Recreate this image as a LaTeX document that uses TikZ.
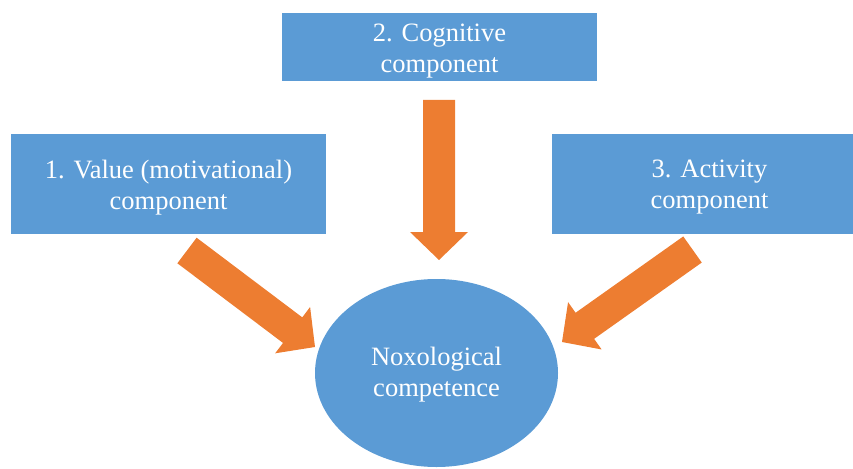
\documentclass[tikz,border=0pt]{standalone}
\usepackage{fontspec}
\setmainfont{Liberation Serif}
\usetikzlibrary{calc,shapes.geometric}
\definecolor{boxblue}{HTML}{5B9BD5}
\definecolor{arroworange}{HTML}{ED7D31}
\tikzset{
  comp/.style={fill=boxblue, draw=none, inner sep=0pt, minimum width=315pt},
  goal/.style={ellipse, fill=boxblue, draw=none, inner sep=0pt,
    minimum width=243pt, minimum height=188pt},
  lbl/.style={text=white, align=center, inner sep=0pt,
    font=\fontsize{26.5}{31}\selectfont},
  blockfill/.style={fill=arroworange, draw=none}
}
\newcommand\blockarrow[2]{%
  \coordinate (ba) at ($(#2)!28pt!(#1)$);
  \fill[blockfill] ($(#1)!16pt!90:(#2)$) -- ($(ba)!16pt!-90:(#1)$)
    -- ($(ba)!29pt!-90:(#1)$) -- (#2) -- ($(ba)!29pt!90:(#1)$)
    -- ($(ba)!16pt!90:(#1)$) -- ($(#1)!16pt!-90:(#2)$) -- cycle;}
\begin{document}
\begin{tikzpicture}[x=1pt, y=-1pt]
\useasboundingbox (0,0) rectangle (853,468);
\clip (0,0) rectangle (853,468);
\node[comp, minimum height=68.6pt] (cog) at (439.5,47) {};
\node[comp, minimum height=100pt] (val) at (168.5,184) {};
\node[comp, minimum height=100pt] (act) at (709.5,184) {};
\node[goal] (nox) at (436.5,373) {};
\node[lbl] (cogt) at ($(cog)+(0,4)$) {2. Cognitive\\component};
\node[lbl] (valt) at ($(val)+(0,3.5)$) {1. Value (motivational)\\component};
\node[lbl] (actt) at ($(act)+(0,3.5)$) {3. Activity\\component};
\node[lbl] (noxt) at ($(nox)+(0,1.5)$) {Noxological\\competence};
\coordinate (t1) at (187,250.5);
\coordinate (h1) at (315,347);
\coordinate (t2) at (439,100);
\coordinate (h2) at (439,260);
\coordinate (t3) at (692.5,249.5);
\coordinate (h3) at (562,342);
\blockarrow{t1}{h1}
\blockarrow{t2}{h2}
\blockarrow{t3}{h3}
\end{tikzpicture}
\end{document}
